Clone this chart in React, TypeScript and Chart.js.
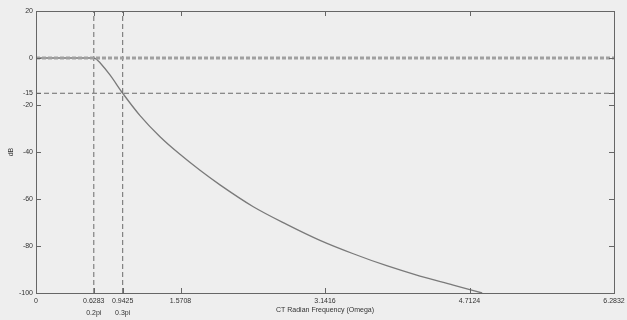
import React, { useEffect, useRef } from 'react';
import { Chart, registerables } from 'chart.js';

Chart.register(...registerables);

// Frequency response (CT radian frequency vs dB)
const omega = [0, 0.3, 0.6283, 0.66, 0.696, 0.804, 0.9425, 1.131, 1.348, 1.565, 1.783, 2.0, 2.362, 2.725, 3.087, 3.449, 3.812, 4.174, 4.536, 4.85];
const magnitudeDb = [0, 0, 0, -0.6, -2.0, -7.2, -15, -24.5, -33.5, -41.0, -47.8, -54.0, -63.3, -70.8, -77.6, -83.3, -88.4, -92.8, -96.6, -100];

const passbandDb = 0;
const stopbandDb = -15;
const edgeFreqs = [0.6283, 0.9425];

const xTickValues = [0, 0.6283, 0.9425, 1.5708, 3.1416, 4.7124, 6.2832];
const xTickLabels = ['0', '0.6283', '0.9425', '1.5708', '3.1416', '4.7124', '6.2832'];
const xTickSubLabels = ['', '0.2pi', '0.3pi', '', '', '', ''];
const yTickValues = [-100, -80, -60, -40, -20, -15, 0, 20];

const X_MIN = 0;
const X_MAX = 6.2832;
const Y_MIN = -100;
const Y_MAX = 20;

const FONT = '"Liberation Sans", Arial, sans-serif';

const decorPlugin = {
  id: 'decor',
  beforeDraw(chart: any) {
    const { ctx, width, height } = chart;
    ctx.save();
    ctx.fillStyle = '#eeeeee';
    ctx.fillRect(0, 0, width, height);
    ctx.restore();
  },
  afterDraw(chart: any) {
    const { ctx, chartArea } = chart;
    const { left, right, top, bottom } = chartArea;
    const xs = chart.scales.x;
    const ys = chart.scales.y;
    ctx.save();
    ctx.strokeStyle = '#666666';
    ctx.lineWidth = 1;
    ctx.strokeRect(Math.round(left) + 0.5, Math.round(top) + 0.5, Math.round(right - left), Math.round(bottom - top));
    const tl = 5;
    ctx.beginPath();
    for (const v of xTickValues) {
      const px = Math.round(xs.getPixelForValue(v)) + 0.5;
      ctx.moveTo(px, bottom);
      ctx.lineTo(px, bottom - tl);
      ctx.moveTo(px, top);
      ctx.lineTo(px, top + tl);
    }
    for (const v of yTickValues) {
      const py = Math.round(ys.getPixelForValue(v)) + 0.5;
      ctx.moveTo(left, py);
      ctx.lineTo(left + tl, py);
      ctx.moveTo(right, py);
      ctx.lineTo(right - tl, py);
    }
    ctx.stroke();
    ctx.fillStyle = '#333333';
    ctx.font = `7px ${FONT}`;
    ctx.textAlign = 'center';
    ctx.textBaseline = 'middle';
    ctx.fillText('CT Radian Frequency (Omega)', (left + right) / 2, 310);
    ctx.translate(11, (top + bottom) / 2);
    ctx.rotate(-Math.PI / 2);
    ctx.fillText('dB', 0, 0);
    ctx.restore();
  },
};

export default function App() {
  const canvasRef = useRef<HTMLCanvasElement>(null);

  useEffect(() => {
    document.body.style.margin = '0';
    const canvas = canvasRef.current!;
    const chart = new Chart(canvas, {
      type: 'scatter',
      data: {
        datasets: [
          {
            data: [{ x: X_MIN, y: passbandDb }, { x: X_MAX, y: passbandDb }],
            showLine: true,
            borderColor: '#a0a0a0',
            borderWidth: 3,
            borderDash: [4, 2],
            pointRadius: 0,
          },
          {
            data: [{ x: X_MIN, y: stopbandDb }, { x: X_MAX, y: stopbandDb }],
            showLine: true,
            borderColor: '#6a6a6a',
            borderWidth: 1,
            borderDash: [5, 3],
            pointRadius: 0,
          },
          ...edgeFreqs.map((f) => ({
            data: [{ x: f, y: Y_MIN }, { x: f, y: Y_MAX }],
            showLine: true,
            borderColor: '#6a6a6a',
            borderWidth: 1,
            borderDash: [5, 3],
            pointRadius: 0,
          })),
          {
            data: omega.map((w, i) => ({ x: w, y: magnitudeDb[i] })),
            showLine: true,
            borderColor: '#7a7a7a',
            borderWidth: 1.3,
            pointRadius: 0,
            cubicInterpolationMode: 'monotone',
          },
        ],
      },
      options: {
        animation: false,
        responsive: false,
        devicePixelRatio: 1,
        layout: { padding: { top: 11, right: 13, left: 0, bottom: 0 } },
        plugins: { legend: { display: false }, tooltip: { enabled: false } },
        scales: {
          x: {
            type: 'linear',
            min: X_MIN,
            max: X_MAX,
            afterBuildTicks: (scale: any) => {
              scale.ticks = xTickValues.map((v) => ({ value: v }));
            },
            afterFit: (scale: any) => {
              scale.height = 27;
            },
            grid: { display: false, drawTicks: false, tickLength: 0 },
            border: { display: false },
            ticks: {
              autoSkip: false,
              maxRotation: 0,
              padding: 2,
              color: '#333333',
              font: { family: FONT, size: 7, lineHeight: 1.75 },
              callback: (_v: any, i: number) =>
                xTickSubLabels[i] ? [xTickLabels[i], xTickSubLabels[i]] : xTickLabels[i],
            },
          },
          y: {
            type: 'linear',
            min: Y_MIN,
            max: Y_MAX,
            afterBuildTicks: (scale: any) => {
              scale.ticks = yTickValues.map((v) => ({ value: v }));
            },
            afterFit: (scale: any) => {
              scale.width = 36;
            },
            grid: { display: false, drawTicks: false, tickLength: 0 },
            border: { display: false },
            ticks: {
              autoSkip: false,
              padding: 3,
              color: '#333333',
              font: { family: FONT, size: 7 },
              callback: (v: any) => String(v),
            },
          },
        },
      },
      plugins: [decorPlugin],
    } as any);
    return () => chart.destroy();
  }, []);

  return (
    <div style={{ position: 'fixed', left: 0, top: 0, width: 627, height: 320, background: '#eeeeee' }}>
      <canvas ref={canvasRef} width={627} height={320} />
    </div>
  );
}
